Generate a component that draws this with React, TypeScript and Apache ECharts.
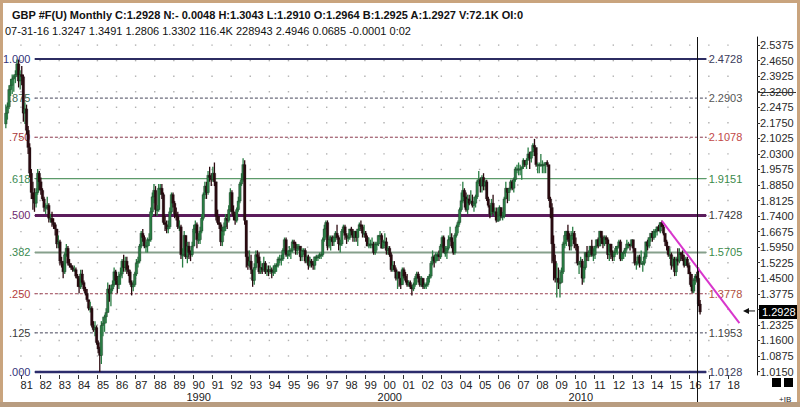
import React, { useEffect, useRef } from 'react';
import * as echarts from 'echarts';

// Monthly candles, March 1980 .. July 2016 (open = previous close)
const startYear = 1980;
const startMonth = 3;
const firstOpen = 2.17;

const closes = [
  2.22, 2.25, 2.33, 2.35, 2.38, 2.39, 2.40, 2.45, 2.37, 2.40,
  2.39, 2.22, 2.24, 2.14, 2.06, 1.94, 1.85, 1.82, 1.80, 1.85, 1.94, 1.90,
  1.86, 1.82, 1.78, 1.78, 1.79, 1.73, 1.73, 1.71, 1.70, 1.68, 1.61, 1.62,
  1.53, 1.52, 1.48, 1.56, 1.59, 1.52, 1.51, 1.50, 1.49, 1.49, 1.46, 1.45,
  1.41, 1.47, 1.43, 1.40, 1.38, 1.35, 1.31, 1.31, 1.23, 1.21, 1.22, 1.15,
  1.12, 1.09, 1.23, 1.24, 1.27, 1.29, 1.40, 1.38, 1.40, 1.42, 1.48, 1.44,
  1.42, 1.46, 1.47, 1.53, 1.50, 1.53, 1.49, 1.48, 1.43, 1.41, 1.42, 1.47,
  1.52, 1.53, 1.60, 1.66, 1.64, 1.60, 1.60, 1.63, 1.63, 1.76, 1.83, 1.86,
  1.77, 1.77, 1.87, 1.87, 1.84, 1.71, 1.70, 1.68, 1.69, 1.76, 1.84, 1.80,
  1.75, 1.74, 1.69, 1.69, 1.56, 1.56, 1.65, 1.55, 1.60, 1.57, 1.56, 1.60,
  1.68, 1.70, 1.63, 1.63, 1.67, 1.73, 1.84, 1.88, 1.85, 1.93, 1.92, 1.91,
  1.94, 1.90, 1.74, 1.71, 1.70, 1.62, 1.67, 1.69, 1.73, 1.72, 1.77, 1.85,
  1.76, 1.74, 1.72, 1.77, 1.81, 1.89, 1.91, 1.98, 1.72, 1.55, 1.51, 1.53,
  1.49, 1.44, 1.50, 1.56, 1.55, 1.48, 1.50, 1.49, 1.52, 1.48, 1.49, 1.48,
  1.49, 1.48, 1.48, 1.51, 1.51, 1.54, 1.54, 1.54, 1.58, 1.63, 1.56, 1.56,
  1.58, 1.58, 1.62, 1.61, 1.58, 1.59, 1.60, 1.55, 1.58, 1.58, 1.53, 1.55,
  1.51, 1.53, 1.52, 1.51, 1.55, 1.55, 1.55, 1.56, 1.56, 1.63, 1.68, 1.71,
  1.60, 1.63, 1.64, 1.62, 1.64, 1.66, 1.64, 1.61, 1.61, 1.67, 1.69, 1.65,
  1.64, 1.64, 1.68, 1.67, 1.64, 1.67, 1.64, 1.68, 1.70, 1.69, 1.66, 1.66,
  1.64, 1.60, 1.61, 1.61, 1.61, 1.57, 1.61, 1.61, 1.65, 1.65, 1.59, 1.62,
  1.62, 1.58, 1.59, 1.56, 1.49, 1.51, 1.49, 1.45, 1.48, 1.45, 1.42, 1.49,
  1.46, 1.44, 1.42, 1.43, 1.41, 1.40, 1.42, 1.45, 1.47, 1.45, 1.42, 1.45,
  1.41, 1.42, 1.42, 1.45, 1.46, 1.52, 1.55, 1.53, 1.56, 1.56, 1.55, 1.60,
  1.64, 1.57, 1.57, 1.59, 1.63, 1.64, 1.60, 1.57, 1.65, 1.69, 1.71, 1.77,
  1.81, 1.86, 1.83, 1.77, 1.82, 1.80, 1.81, 1.79, 1.80, 1.83, 1.90, 1.91,
  1.88, 1.92, 1.88, 1.90, 1.82, 1.79, 1.75, 1.80, 1.76, 1.76, 1.72, 1.72,
  1.78, 1.74, 1.74, 1.82, 1.87, 1.85, 1.87, 1.90, 1.87, 1.91, 1.96, 1.96,
  1.96, 1.96, 1.97, 2.00, 1.98, 2.00, 2.03, 2.01, 2.04, 2.07, 2.06, 1.98,
  1.98, 1.98, 1.98, 1.98, 1.98, 1.99, 1.98, 1.82, 1.78, 1.61, 1.53, 1.45,
  1.45, 1.43, 1.43, 1.48, 1.61, 1.65, 1.67, 1.63, 1.60, 1.65, 1.66, 1.61,
  1.60, 1.52, 1.52, 1.53, 1.45, 1.50, 1.57, 1.55, 1.57, 1.60, 1.56, 1.56,
  1.60, 1.63, 1.60, 1.67, 1.64, 1.61, 1.64, 1.63, 1.56, 1.61, 1.57, 1.55,
  1.57, 1.59, 1.60, 1.62, 1.54, 1.57, 1.57, 1.59, 1.61, 1.61, 1.60, 1.63,
  1.59, 1.52, 1.52, 1.55, 1.52, 1.52, 1.52, 1.55, 1.62, 1.60, 1.64, 1.66,
  1.64, 1.67, 1.67, 1.69, 1.67, 1.71, 1.69, 1.66, 1.62, 1.60, 1.56, 1.56,
  1.51, 1.54, 1.48, 1.54, 1.53, 1.57, 1.56, 1.54, 1.51, 1.54, 1.51, 1.47,
  1.42, 1.39, 1.44, 1.46, 1.45, 1.33, 1.2928,
];

const highs = [
  2.26, 2.27, 2.35, 2.38, 2.40, 2.40, 2.42, 2.47, 2.47, 2.42,
  2.44, 2.40, 2.27, 2.26, 2.16, 2.08, 1.96, 1.90, 1.87, 1.87, 1.96, 1.95,
  1.92, 1.87, 1.83, 1.80, 1.83, 1.80, 1.75, 1.76, 1.73, 1.71, 1.68, 1.65,
  1.63, 1.55, 1.53, 1.57, 1.61, 1.60, 1.54, 1.52, 1.51, 1.51, 1.50, 1.47,
  1.46, 1.49, 1.49, 1.44, 1.41, 1.40, 1.35, 1.34, 1.32, 1.25, 1.25, 1.23,
  1.16, 1.13, 1.25, 1.27, 1.28, 1.31, 1.43, 1.42, 1.42, 1.44, 1.50, 1.49,
  1.46, 1.48, 1.50, 1.54, 1.56, 1.55, 1.55, 1.51, 1.49, 1.44, 1.44, 1.48,
  1.54, 1.55, 1.61, 1.67, 1.68, 1.65, 1.62, 1.64, 1.66, 1.78, 1.85, 1.89,
  1.88, 1.79, 1.89, 1.89, 1.89, 1.85, 1.74, 1.72, 1.72, 1.78, 1.85, 1.85,
  1.81, 1.78, 1.76, 1.72, 1.70, 1.59, 1.67, 1.65, 1.62, 1.62, 1.58, 1.62,
  1.70, 1.72, 1.71, 1.66, 1.69, 1.75, 1.85, 1.90, 1.90, 1.95, 1.97, 1.94,
  1.97, 1.99, 1.90, 1.77, 1.74, 1.71, 1.69, 1.71, 1.75, 1.75, 1.79, 1.87,
  1.86, 1.79, 1.76, 1.78, 1.83, 1.90, 1.94, 2.01, 2.00, 1.72, 1.58, 1.58,
  1.56, 1.49, 1.52, 1.58, 1.58, 1.57, 1.53, 1.52, 1.55, 1.53, 1.51, 1.51,
  1.51, 1.50, 1.51, 1.52, 1.52, 1.55, 1.56, 1.56, 1.59, 1.64, 1.64, 1.58,
  1.60, 1.59, 1.63, 1.63, 1.62, 1.61, 1.61, 1.60, 1.59, 1.59, 1.59, 1.56,
  1.56, 1.55, 1.54, 1.53, 1.55, 1.56, 1.56, 1.57, 1.57, 1.64, 1.70, 1.72,
  1.72, 1.65, 1.65, 1.65, 1.65, 1.67, 1.70, 1.65, 1.63, 1.68, 1.70, 1.70,
  1.66, 1.66, 1.68, 1.69, 1.68, 1.67, 1.66, 1.68, 1.71, 1.72, 1.70, 1.70,
  1.67, 1.65, 1.64, 1.63, 1.64, 1.62, 1.62, 1.62, 1.65, 1.67, 1.66, 1.63,
  1.66, 1.64, 1.60, 1.60, 1.57, 1.53, 1.53, 1.50, 1.48, 1.48, 1.45, 1.50,
  1.50, 1.48, 1.47, 1.44, 1.44, 1.42, 1.43, 1.46, 1.48, 1.48, 1.46, 1.46,
  1.45, 1.43, 1.43, 1.46, 1.47, 1.53, 1.58, 1.56, 1.57, 1.57, 1.58, 1.61,
  1.65, 1.65, 1.60, 1.60, 1.65, 1.69, 1.66, 1.62, 1.66, 1.70, 1.72, 1.78,
  1.85, 1.90, 1.87, 1.85, 1.84, 1.84, 1.86, 1.84, 1.83, 1.84, 1.91, 1.95,
  1.92, 1.93, 1.94, 1.91, 1.91, 1.83, 1.79, 1.82, 1.84, 1.78, 1.78, 1.78,
  1.79, 1.78, 1.76, 1.83, 1.90, 1.87, 1.87, 1.91, 1.91, 1.92, 1.97, 1.98,
  1.99, 1.98, 1.97, 2.01, 2.00, 2.01, 2.06, 2.04, 2.04, 2.08, 2.10, 2.06,
  1.99, 1.99, 2.03, 2.00, 1.99, 1.99, 2.00, 1.98, 1.83, 1.80, 1.65, 1.56,
  1.52, 1.50, 1.49, 1.50, 1.62, 1.67, 1.67, 1.70, 1.66, 1.67, 1.69, 1.67,
  1.64, 1.61, 1.53, 1.55, 1.54, 1.51, 1.57, 1.60, 1.58, 1.60, 1.63, 1.59,
  1.60, 1.63, 1.64, 1.67, 1.67, 1.65, 1.65, 1.65, 1.64, 1.61, 1.61, 1.58,
  1.58, 1.60, 1.60, 1.63, 1.63, 1.57, 1.58, 1.59, 1.63, 1.62, 1.61, 1.63,
  1.63, 1.59, 1.53, 1.56, 1.56, 1.58, 1.53, 1.57, 1.62, 1.63, 1.64, 1.66,
  1.67, 1.68, 1.68, 1.69, 1.70, 1.71, 1.72, 1.70, 1.66, 1.63, 1.60, 1.59,
  1.57, 1.55, 1.55, 1.55, 1.59, 1.59, 1.57, 1.58, 1.56, 1.55, 1.55, 1.52,
  1.48, 1.47, 1.45, 1.47, 1.48, 1.50, 1.3491,
];

const lows = [
  2.15, 2.19, 2.24, 2.30, 2.31, 2.32, 2.36, 2.39, 2.34, 2.33,
  2.35, 2.18, 2.17, 2.12, 2.03, 1.92, 1.82, 1.77, 1.76, 1.78, 1.84, 1.86,
  1.84, 1.81, 1.76, 1.75, 1.77, 1.71, 1.71, 1.69, 1.68, 1.65, 1.59, 1.59,
  1.51, 1.50, 1.45, 1.47, 1.55, 1.51, 1.50, 1.49, 1.48, 1.48, 1.45, 1.41,
  1.38, 1.40, 1.42, 1.39, 1.37, 1.34, 1.30, 1.29, 1.22, 1.20, 1.18, 1.14,
  1.10, 1.013, 1.05, 1.18, 1.20, 1.24, 1.29, 1.34, 1.32, 1.39, 1.41, 1.42,
  1.38, 1.40, 1.42, 1.45, 1.48, 1.48, 1.47, 1.46, 1.42, 1.37, 1.39, 1.41,
  1.46, 1.50, 1.52, 1.59, 1.62, 1.59, 1.57, 1.57, 1.60, 1.62, 1.74, 1.80,
  1.74, 1.74, 1.76, 1.84, 1.82, 1.70, 1.67, 1.66, 1.66, 1.68, 1.75, 1.78,
  1.73, 1.72, 1.68, 1.67, 1.54, 1.50, 1.55, 1.54, 1.52, 1.54, 1.53, 1.55,
  1.60, 1.66, 1.59, 1.61, 1.61, 1.66, 1.72, 1.82, 1.82, 1.84, 1.90, 1.88,
  1.90, 1.88, 1.72, 1.70, 1.68, 1.60, 1.60, 1.65, 1.67, 1.68, 1.71, 1.76,
  1.75, 1.72, 1.70, 1.71, 1.76, 1.80, 1.88, 1.90, 1.70, 1.50, 1.49, 1.50,
  1.47, 1.41, 1.42, 1.49, 1.52, 1.47, 1.47, 1.47, 1.48, 1.47, 1.46, 1.46,
  1.47, 1.45, 1.46, 1.47, 1.48, 1.50, 1.52, 1.51, 1.53, 1.57, 1.55, 1.54,
  1.55, 1.54, 1.57, 1.59, 1.56, 1.56, 1.58, 1.53, 1.53, 1.56, 1.52, 1.52,
  1.49, 1.50, 1.50, 1.49, 1.49, 1.53, 1.53, 1.54, 1.54, 1.55, 1.62, 1.64,
  1.58, 1.59, 1.58, 1.60, 1.60, 1.62, 1.63, 1.58, 1.57, 1.60, 1.66, 1.63,
  1.61, 1.62, 1.63, 1.65, 1.62, 1.62, 1.62, 1.60, 1.67, 1.67, 1.64, 1.64,
  1.62, 1.60, 1.59, 1.59, 1.59, 1.56, 1.56, 1.58, 1.60, 1.63, 1.59, 1.59,
  1.60, 1.56, 1.56, 1.55, 1.48, 1.48, 1.48, 1.44, 1.40, 1.41, 1.40, 1.42,
  1.45, 1.43, 1.41, 1.41, 1.40, 1.37, 1.39, 1.41, 1.42, 1.43, 1.41, 1.41,
  1.40, 1.40, 1.40, 1.41, 1.43, 1.45, 1.51, 1.50, 1.52, 1.53, 1.53, 1.54,
  1.59, 1.57, 1.55, 1.54, 1.58, 1.62, 1.59, 1.56, 1.56, 1.64, 1.66, 1.70,
  1.76, 1.80, 1.78, 1.76, 1.75, 1.79, 1.80, 1.78, 1.76, 1.78, 1.82, 1.89,
  1.85, 1.85, 1.86, 1.86, 1.81, 1.78, 1.73, 1.74, 1.75, 1.74, 1.71, 1.72,
  1.72, 1.73, 1.72, 1.73, 1.82, 1.80, 1.81, 1.86, 1.86, 1.85, 1.90, 1.94,
  1.93, 1.93, 1.91, 1.96, 1.97, 1.96, 2.00, 1.96, 1.99, 2.02, 2.02, 1.97,
  1.94, 1.94, 1.97, 1.94, 1.94, 1.94, 1.97, 1.81, 1.73, 1.52, 1.44, 1.43,
  1.36, 1.40, 1.36, 1.43, 1.47, 1.59, 1.60, 1.62, 1.58, 1.58, 1.63, 1.59,
  1.58, 1.51, 1.47, 1.50, 1.42, 1.43, 1.49, 1.53, 1.53, 1.55, 1.55, 1.53,
  1.54, 1.59, 1.59, 1.60, 1.61, 1.59, 1.60, 1.61, 1.54, 1.53, 1.54, 1.53,
  1.53, 1.56, 1.56, 1.59, 1.53, 1.53, 1.54, 1.55, 1.58, 1.59, 1.58, 1.60,
  1.57, 1.51, 1.49, 1.51, 1.50, 1.52, 1.48, 1.51, 1.54, 1.58, 1.59, 1.62,
  1.62, 1.63, 1.64, 1.65, 1.67, 1.66, 1.69, 1.65, 1.60, 1.58, 1.55, 1.54,
  1.49, 1.50, 1.46, 1.46, 1.51, 1.52, 1.53, 1.53, 1.50, 1.51, 1.50, 1.47,
  1.41, 1.38, 1.38, 1.42, 1.43, 1.32, 1.2806,
];

const yearTicks = [
  1981, 1982, 1983, 1984, 1985, 1986, 1987, 1988, 1989, 1990,
  1991, 1992, 1993, 1994, 1995, 1996, 1997, 1998, 1999, 2000,
  2001, 2002, 2003, 2004, 2005, 2006, 2007, 2008, 2009, 2010,
  2011, 2012, 2013, 2014, 2015, 2016, 2017, 2018,
];
// the year labels sit a little to the right of their ticks
const yearLabelOffset = 0.3;
const priceTicks = [
  1.015, 1.0875, 1.16, 1.2325, 1.305, 1.3775, 1.45, 1.5225, 1.595, 1.6675, 1.74,
  1.8125, 1.885, 1.9575, 2.03, 2.1025, 2.175, 2.2475, 2.32, 2.3925, 2.465, 2.5375,
];
// 1.3050 is hidden behind the last-price box in the reference
const priceLabels = [
  1.015, 1.0875, 1.16, 1.2325, 1.3775, 1.45, 1.5225, 1.595, 1.6675, 1.74,
  1.8125, 1.885, 1.9575, 2.03, 2.1025, 2.175, 2.2475, 2.32, 2.3925, 2.465, 2.5375,
];
// a short marker line crosses the 2.3200 axis label
const axisMarkPrice = 2.32;

const fibLabels = ['1.000', '.875', '.750', '.618', '.500', '.382', '.250', '.125', '.000'];
const fibPrices = [2.4728, 2.2903, 2.1078, 1.9151, 1.7428, 1.5705, 1.3778, 1.1953, 1.0128];
const fibStartT = 1981.73;
const fibEndT = 2016.86;

const trendTimes = [2014.54, 2018.6];
const trendPrices = [1.718, 1.241];

const lastPrice = 1.2928;
const headerLine1 = 'GBP #F(U) Monthly C:1.2928 N:- 0.0048 H:1.3043 L:1.2910 O:1.2964 B:1.2925 A:1.2927 V:72.1K OI:0';
const headerLine2 = '07-31-16 1.3247 1.3491 1.2806 1.3302 116.4K 228943 2.4946 0.0685 -0.0001 0:02';

const FONT = '"Liberation Sans", Arial, sans-serif';

const fibStyles = [
  { color: '#2c2c62', width: 2, type: 'solid', lc: '#34347a', rc: '#3c3c5c' },
  { color: '#45455a', width: 1, type: [3, 2], lc: '#3a6a50', rc: '#555555' },
  { color: '#8c3a4e', width: 1, type: [3, 2], lc: '#a83a3a', rc: '#c24848' },
  { color: '#5c9a6a', width: 1.2, type: 'solid', lc: '#3a8a52', rc: '#3a8a4a' },
  { color: '#5c1c5c', width: 3, type: 'solid', lc: '#6e2a6e', rc: '#3a3a3a' },
  { color: '#86a08c', width: 2, type: 'solid', lc: '#3a8a52', rc: '#3a8a4a' },
  { color: '#9a4252', width: 1, type: [3, 2], lc: '#b43c3c', rc: '#b05040' },
  { color: '#45455a', width: 1, type: [3, 2], lc: '#3a3a3a', rc: '#444444' },
  { color: '#2c2c6c', width: 2.5, type: 'solid', lc: '#34347a', rc: '#3c3c5c' },
];

const UP = '#2a7d44';
const DOWN = '#2c0a10';

export default function App() {
  const ref = useRef<HTMLDivElement>(null);
  useEffect(() => {
    const chart = echarts.init(ref.current as HTMLDivElement, null, { renderer: 'svg' });
    const candles = closes.map((c, i) => {
      const t = startYear + (startMonth - 1 + i) / 12 + 1 / 24;
      const o = i === 0 ? firstOpen : closes[i - 1];
      return [t, o, c, lows[i], highs[i]];
    });
    const dots: number[][] = [];
    yearTicks.forEach((y) => priceTicks.forEach((p) => dots.push([y, p])));

    const fibSeries = fibPrices.map((p, i) => {
      const s = fibStyles[i];
      return {
        type: 'line',
        silent: true,
        z: 2,
        symbol: 'circle',
        symbolSize: 1,
        itemStyle: { color: s.color },
        lineStyle: { color: s.color, width: s.width, type: s.type },
        data: [
          {
            value: [fibStartT, p],
            label: { show: true, position: 'left', distance: 4, formatter: fibLabels[i], color: s.lc, fontSize: 11, fontFamily: FONT },
          },
          {
            value: [fibEndT, p],
            label: { show: true, position: 'right', distance: 2, formatter: p.toFixed(4), color: s.rc, fontSize: 11, fontFamily: FONT },
          },
        ],
      };
    });

    const option: any = {
      animation: false,
      backgroundColor: '#ffffff',
      textStyle: { fontFamily: FONT },
      grid: { left: 3, right: 43, top: 37, bottom: 32 },
      xAxis: {
        type: 'value',
        min: 1980.06,
        max: 2019.52,
        splitLine: { show: false },
        axisLine: { show: false },
        axisTick: { show: true, customValues: yearTicks, length: 4, lineStyle: { color: '#333' } },
        axisLabel: {
          customValues: yearTicks.map((y) => y + yearLabelOffset),
          showMinLabel: true,
          showMaxLabel: true,
          hideOverlap: false,
          color: '#222',
          fontSize: 11,
          lineHeight: 12,
          margin: 4,
          fontFamily: FONT,
          formatter: (v: number) => {
            const y = Math.floor(v);
            const s = String(y).slice(2);
            return y % 10 === 0 ? s + '\n' + y : s;
          },
        },
      },
      yAxis: {
        type: 'value',
        position: 'right',
        min: 0.9988,
        max: 2.5753,
        splitLine: { show: false },
        axisLine: { show: true, lineStyle: { color: '#111', width: 1 } },
        axisTick: { show: true, customValues: priceTicks, length: 3, lineStyle: { color: '#333' } },
        axisLabel: {
          customValues: priceLabels,
          showMinLabel: true,
          showMaxLabel: true,
          color: '#2a2a2a',
          fontSize: 11,
          margin: 3,
          fontFamily: FONT,
          formatter: (v: number) => v.toFixed(4),
        },
      },
      series: [
        {
          type: 'scatter',
          silent: true,
          z: 1,
          symbol: 'rect',
          symbolSize: 1.4,
          itemStyle: { color: '#9c9c9c' },
          data: dots,
        },
        ...fibSeries,
        {
          type: 'custom',
          z: 3,
          silent: true,
          encode: { x: 0, y: [1, 2, 3, 4] },
          data: candles,
          renderItem: (params: any, api: any) => {
            const t = api.value(0);
            const o = api.value(1);
            const c = api.value(2);
            const l = api.value(3);
            const h = api.value(4);
            const pH = api.coord([t, h]);
            const pL = api.coord([t, l]);
            const pO = api.coord([t, o]);
            const pC = api.coord([t, c]);
            const color = c >= o ? UP : DOWN;
            const w = 2.6;
            return {
              type: 'group',
              children: [
                { type: 'line', shape: { x1: pH[0], y1: pH[1], x2: pL[0], y2: pL[1] }, style: { stroke: color, lineWidth: 1.3 } },
                {
                  type: 'rect',
                  shape: { x: pO[0] - w / 2, y: Math.min(pO[1], pC[1]), width: w, height: Math.max(1.2, Math.abs(pO[1] - pC[1])) },
                  style: { fill: color, stroke: '#1a1a1a', lineWidth: 0.3 },
                },
              ],
            };
          },
        },
        {
          type: 'line',
          silent: true,
          z: 4,
          symbol: 'none',
          lineStyle: { color: '#d836cc', width: 2 },
          data: trendTimes.map((t, i) => [t, trendPrices[i]]),
        },
      ],
    };
    chart.setOption(option);

    const lastT = candles[candles.length - 1][0];
    const cx = Math.round(chart.convertToPixel({ xAxisIndex: 0 }, lastT) as number) - 2.5;
    const py = chart.convertToPixel({ yAxisIndex: 0 }, lastPrice) as number;
    const my = Math.round(chart.convertToPixel({ yAxisIndex: 0 }, axisMarkPrice) as number) + 0.5;

    chart.setOption({
      graphic: [
        { type: 'rect', z: 50, shape: { x: 1.5, y: 1.5, width: 797, height: 404 }, style: { fill: 'none', stroke: '#c9a47e', lineWidth: 3 } },
        { type: 'rect', z: 50, shape: { x: 0, y: 402, width: 800, height: 5 }, style: { fill: '#b89c80' } },
        { type: 'text', z: 50, x: 12, y: 15, style: { text: headerLine1, fontSize: 11, fontWeight: 'bold', fontFamily: FONT, fill: '#111', verticalAlign: 'middle' } },
        { type: 'text', z: 50, x: 5, y: 31, style: { text: headerLine2, fontSize: 11, fontFamily: FONT, fill: '#111', verticalAlign: 'middle' } },
        { type: 'line', z: 40, shape: { x1: cx, y1: 37, x2: cx, y2: 407 }, style: { stroke: '#111', lineWidth: 1 } },
        { type: 'line', z: 40, shape: { x1: 757, y1: my, x2: 796, y2: my }, style: { stroke: '#333', lineWidth: 1 } },
        { type: 'rect', z: 45, shape: { x: 759, y: py - 7, width: 38, height: 14 }, style: { fill: '#000' } },
        { type: 'text', z: 46, x: 762, y: py, style: { text: lastPrice.toFixed(4), fontSize: 11, fontFamily: FONT, fill: '#fff', verticalAlign: 'middle' } },
        { type: 'polygon', z: 45, shape: { points: [[743, py - 1], [749, py - 4], [749, py + 2]] }, style: { fill: '#111' } },
        { type: 'line', z: 45, shape: { x1: 748, y1: py - 1, x2: 755, y2: py - 1 }, style: { stroke: '#111', lineWidth: 1 } },
        { type: 'rect', z: 45, shape: { x: 772, y: 378, width: 9, height: 9 }, style: { fill: '#000' } },
        { type: 'rect', z: 45, shape: { x: 784, y: 378, width: 9, height: 9 }, style: { fill: '#000' } },
        { type: 'text', z: 45, x: 779, y: 399, style: { text: '+IB', fontSize: 8, fontFamily: FONT, fill: '#222', verticalAlign: 'middle' } },
      ],
    });

    return () => chart.dispose();
  }, []);
  return <div ref={ref} style={{ position: 'fixed', left: 0, top: 0, width: 800, height: 407, background: '#fff' }} />;
}
